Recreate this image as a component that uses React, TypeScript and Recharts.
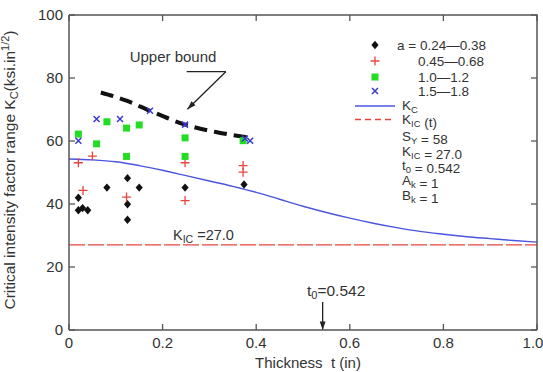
import React from "react";
import {
  ComposedChart,
  Line,
  Scatter,
  XAxis,
  YAxis,
  ReferenceLine,
} from "recharts";

// Kc curve (t in inches, Kc in ksi.in^1/2)
const KC_T = [0, 0.05, 0.1, 0.15, 0.2, 0.25, 0.3, 0.35, 0.4, 0.45, 0.5, 0.55, 0.6, 0.65, 0.7, 0.75, 0.8, 0.85, 0.9, 0.95, 1.0];
const KC_V = [54.3, 54.0, 53.4, 52.2, 50.7, 49.0, 47.3, 45.6, 43.7, 41.5, 39.3, 37.3, 35.5, 33.9, 32.5, 31.3, 30.4, 29.6, 29.0, 28.4, 27.9];

// upper bound (dashed)
const UB_T = [0.068, 0.123, 0.173, 0.248, 0.316, 0.38];
const UB_V = [75.4, 72.8, 69.6, 65.2, 62.8, 61.2];

// test data by crack length a
const A1_T = [0.02, 0.02, 0.029, 0.04, 0.081, 0.125, 0.125, 0.125, 0.15, 0.248, 0.374];
const A1_V = [42, 38, 38.7, 38, 45.2, 48.2, 39.9, 35, 45.2, 45.2, 46.2];
const A2_T = [0.02, 0.05, 0.03, 0.123, 0.248, 0.248, 0.372, 0.372];
const A2_V = [53.1, 55.2, 44.3, 42.2, 53.1, 41.1, 52.2, 50.1];
const A3_T = [0.02, 0.059, 0.081, 0.123, 0.15, 0.123, 0.248, 0.248, 0.372];
const A3_V = [62.2, 59.1, 66.1, 64.1, 65.1, 55.1, 61, 55.1, 60.1];
const A4_T = [0.02, 0.059, 0.109, 0.173, 0.248, 0.376, 0.387];
const A4_V = [60.1, 67, 67, 69.6, 65.2, 60.8, 60.1];

const KIC = 27.0;
const T0 = 0.542;

const X_TICKS = [0, 0.2, 0.4, 0.6, 0.8, 1.0];
const Y_TICKS = [0, 20, 40, 60, 80, 100];

const BLUE = "#4a55e0";
const RED = "#e8453c";
const GREEN = "#22dd22";
const XBLUE = "#3a3ad0";
const AXIS = "#555";
const TXT = "#333";
const FONT = "'Liberation Sans', Arial, sans-serif";

const W = 543;
const H = 372;
const M = { top: 15, right: 6, bottom: 42, left: 69 };
const PLOT_TOP = M.top;
const PLOT_RIGHT = W - M.right;
const PLOT_BOTTOM = H - M.bottom;

const toPts = (ts: number[], vs: number[]) => ts.map((t, i) => ({ t, v: vs[i] }));

const kcData = toPts(KC_T, KC_V);
const ubData = toPts(UB_T, UB_V);

const Diamond = ({ cx, cy }: any) => (
  <path d={`M${cx},${cy - 4.2}L${cx + 3.6},${cy}L${cx},${cy + 4.2}L${cx - 3.6},${cy}Z`} fill="#111" />
);
const Plus = ({ cx, cy }: any) => (
  <path d={`M${cx - 4.5},${cy}H${cx + 4.5}M${cx},${cy - 4.5}V${cy + 4.5}`} stroke={RED} strokeWidth={1.3} fill="none" />
);
const Square = ({ cx, cy }: any) => (
  <rect x={cx - 3.5} y={cy - 3.5} width={7} height={7} fill={GREEN} />
);
const Cross = ({ cx, cy }: any) => (
  <path d={`M${cx - 3},${cy - 3}L${cx + 3},${cy + 3}M${cx + 3},${cy - 3}L${cx - 3},${cy + 3}`} stroke={XBLUE} strokeWidth={1.5} fill="none" />
);

const fmtX = (v: number) => (v === 0 ? "0" : v.toFixed(1));

const BottomTick = ({ x, y, payload }: any) => (
  <g>
    <line x1={x} y1={y} x2={x} y2={y - 6} stroke={AXIS} strokeWidth={1.3} />
    <text
      x={payload.value === 1 ? x - 4 : x}
      y={y + 18}
      textAnchor="middle"
      fontSize={15}
      fill={TXT}
      fontFamily={FONT}
    >
      {fmtX(payload.value)}
    </text>
  </g>
);
const LeftTick = ({ x, y, payload }: any) => (
  <g>
    <line x1={x} y1={y} x2={x + 6} y2={y} stroke={AXIS} strokeWidth={1.3} />
    <text x={x - 6} y={y + 5} textAnchor="end" fontSize={15} fill={TXT} fontFamily={FONT}>
      {payload.value}
    </text>
  </g>
);

const arrowHead = (x1: number, y1: number, x2: number, y2: number, size = 9) => {
  const a = Math.atan2(y2 - y1, x2 - x1);
  const p1 = [x2 - size * Math.cos(a - 0.33), y2 - size * Math.sin(a - 0.33)];
  const p2 = [x2 - size * Math.cos(a + 0.33), y2 - size * Math.sin(a + 0.33)];
  return `M${x2},${y2}L${p1[0]},${p1[1]}L${p2[0]},${p2[1]}Z`;
};

const ArrowShape = (props: any) => {
  const { x1, y1, x2, y2 } = props;
  return (
    <g>
      <line x1={x1} y1={y1} x2={x2} y2={y2} stroke="#222" strokeWidth={1.3} />
      <path d={arrowHead(x1, y1, x2, y2)} fill="#222" />
    </g>
  );
};
const PlainShape = (props: any) => {
  const { x1, y1, x2, y2 } = props;
  return <line x1={x1} y1={y1} x2={x2} y2={y2} stroke="#222" strokeWidth={1.3} />;
};

const Sub = ({ base, sub }: { base: string; sub: string }) => (
  <>
    <tspan>{base}</tspan>
    <tspan dy={2.5} fontSize="0.7em">{sub}</tspan>
    <tspan dy={-2.5}>{""}</tspan>
  </>
);

// mirror ticks for the top and right frame
const plotW = PLOT_RIGHT - M.left;
const plotH = PLOT_BOTTOM - PLOT_TOP;
const xPix = (v: number) => M.left + v * plotW;
const yPix = (v: number) => PLOT_BOTTOM - (v / 100) * plotH;

export default function App() {
  return (
    <div style={{ position: "absolute", left: 0, top: 0, width: W, height: H, background: "#fff" }}>
      <ComposedChart
        width={W}
        height={H}
        margin={{ top: M.top, right: M.right, bottom: 0, left: 0 }}
      >
        <XAxis
          dataKey="t"
          type="number"
          domain={[0, 1]}
          ticks={X_TICKS}
          height={M.bottom}
          tickSize={0}
          tickMargin={0}
          tickLine={false}
          tick={<BottomTick />}
          axisLine={{ stroke: AXIS, strokeWidth: 1.5 }}
          allowDataOverflow
        />
        <YAxis
          type="number"
          domain={[0, 100]}
          ticks={Y_TICKS}
          width={M.left}
          tickSize={0}
          tickMargin={0}
          tickLine={false}
          tick={<LeftTick />}
          axisLine={{ stroke: AXIS, strokeWidth: 1.5 }}
          allowDataOverflow
        />

        <ReferenceLine y={KIC} stroke={RED} strokeWidth={1.3} strokeDasharray="16 3" />

        <Line
          data={kcData}
          dataKey="v"
          type="monotone"
          stroke={BLUE}
          strokeWidth={1.4}
          dot={false}
          isAnimationActive={false}
        />
        <Line
          data={ubData}
          dataKey="v"
          type="monotone"
          stroke="#111"
          strokeWidth={4}
          strokeDasharray="13 7"
          dot={false}
          isAnimationActive={false}
        />

        <Scatter data={toPts(A1_T, A1_V)} dataKey="v" shape={<Diamond />} isAnimationActive={false} />
        <Scatter data={toPts(A2_T, A2_V)} dataKey="v" shape={<Plus />} isAnimationActive={false} />
        <Scatter data={toPts(A3_T, A3_V)} dataKey="v" shape={<Square />} isAnimationActive={false} />
        <Scatter data={toPts(A4_T, A4_V)} dataKey="v" shape={<Cross />} isAnimationActive={false} />

        {/* annotation arrows */}
        <ReferenceLine segment={[{ x: 0.2515, y: 82 }, { x: 0.335, y: 82 }]} shape={<PlainShape />} />
        <ReferenceLine segment={[{ x: 0.335, y: 82 }, { x: 0.253, y: 70.1 }]} shape={<ArrowShape />} />
        <ReferenceLine segment={[{ x: T0, y: 8.9 }, { x: T0, y: 0 }]} shape={<ArrowShape />} />
      </ComposedChart>

      <svg
        width={W}
        height={H}
        style={{ position: "absolute", left: 0, top: 0, pointerEvents: "none" }}
        fontFamily={FONT}
      >
        {/* frame top and right with inward ticks */}
        <path
          d={`M${M.left},${PLOT_TOP}H${PLOT_RIGHT}V${PLOT_BOTTOM}`}
          fill="none"
          stroke={AXIS}
          strokeWidth={1.5}
        />
        {X_TICKS.map((v) => (
          <line key={`tx${v}`} x1={xPix(v)} y1={PLOT_TOP} x2={xPix(v)} y2={PLOT_TOP + 6} stroke={AXIS} strokeWidth={1.3} />
        ))}
        {Y_TICKS.map((v) => (
          <line key={`ty${v}`} x1={PLOT_RIGHT} y1={yPix(v)} x2={PLOT_RIGHT - 6} y2={yPix(v)} stroke={AXIS} strokeWidth={1.3} />
        ))}

        <g fill={TXT}>
          {/* y axis title */}
          <text transform="translate(15,170) rotate(-90)" textAnchor="middle" fontSize={15.5}>
            <tspan>Critical intensity factor range K</tspan>
            <tspan dy={3} fontSize={11}>C</tspan>
            <tspan dy={-3}>(ksi.in</tspan>
            <tspan dy={-6} fontSize={11}>1/2</tspan>
            <tspan dy={6}>)</tspan>
          </text>
          {/* x axis title */}
          <text x={308} y={368} textAnchor="middle" fontSize={15} xmlSpace="preserve">
            Thickness  t (in)
          </text>

          {/* annotations */}
          <text x={173} y={62} textAnchor="middle" fontSize={15}>Upper bound</text>
          <text x={173} y={240} fontSize={14.5}>
            <tspan>K</tspan>
            <tspan dy={3} fontSize={10.5}>IC</tspan>
            <tspan dy={-3}> =27.0</tspan>
          </text>
          <text x={307} y={296} fontSize={15.5}>
            <tspan>t</tspan>
            <tspan dy={3} fontSize={11}>0</tspan>
            <tspan dy={-3}>=0.542</tspan>
          </text>

          {/* legend */}
          <g fontSize={13.5}>
            <Diamond cx={375} cy={45} />
            <text x={397} y={50}>a = 0.24—0.38</text>
            <Plus cx={375} cy={61} />
            <text x={418} y={66}>0.45—0.68</text>
            <Square cx={375} cy={77} />
            <text x={418} y={82}>1.0—1.2</text>
            <Cross cx={375} cy={91} />
            <text x={418} y={96}>1.5—1.8</text>

            <line x1={355} y1={106} x2={395} y2={106} stroke={BLUE} strokeWidth={1.4} />
            <text x={402} y={110}><Sub base="K" sub="C" /></text>
            <line x1={355} y1={119.5} x2={395} y2={119.5} stroke={RED} strokeWidth={1.3} strokeDasharray="6 4" />
            <text x={402} y={124}><Sub base="K" sub="IC" /> (t)</text>

            <text x={402} y={141}><Sub base="S" sub="Y" /> = 58</text>
            <text x={402} y={156}><Sub base="K" sub="IC" /> = 27.0</text>
            <text x={402} y={170}><Sub base="t" sub="0" /> = 0.542</text>
            <text x={402} y={185}><Sub base="A" sub="k" /> = 1</text>
            <text x={402} y={200}><Sub base="B" sub="k" /> = 1</text>
          </g>
        </g>
      </svg>
    </div>
  );
}
